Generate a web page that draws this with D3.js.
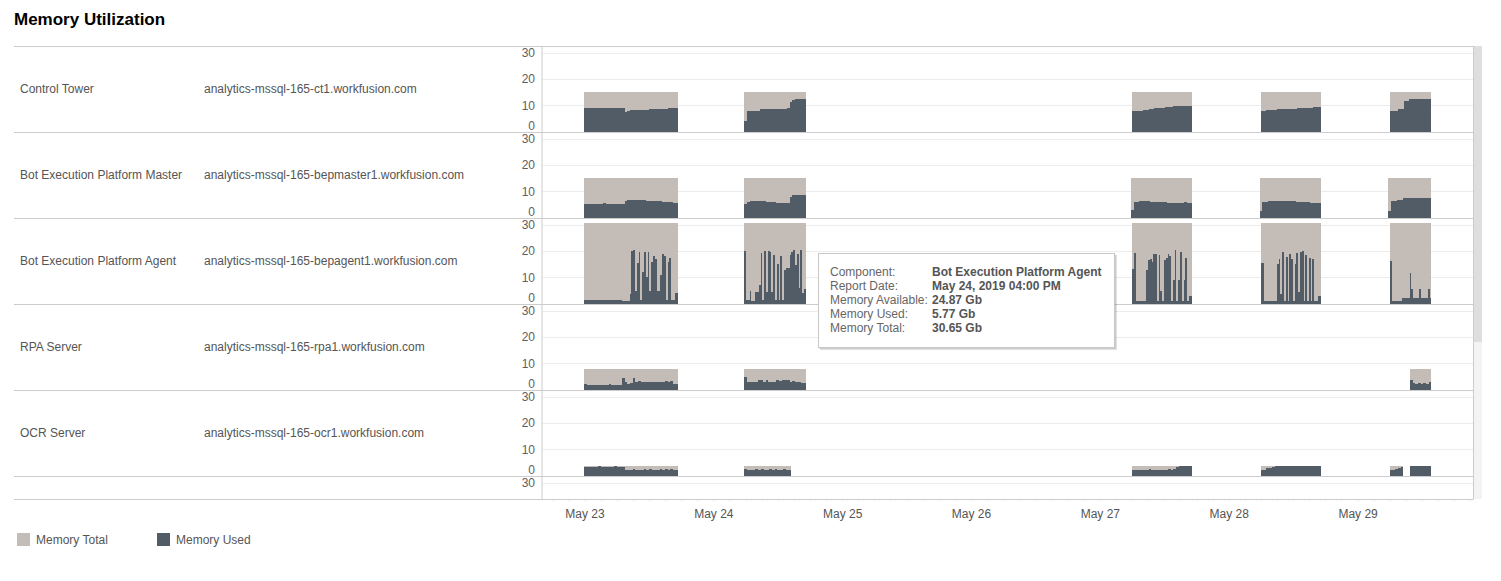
<!DOCTYPE html>
<html><head><meta charset="utf-8">
<script src="https://cdn.jsdelivr.net/npm/d3@7"></script>
<style>
body{margin:0;background:#fff;}
svg{display:block;font-family:"Liberation Sans",Arial,Helvetica,sans-serif;}
</style>
</head><body>
<svg id="c" width="1501" height="581"></svg>
<script>
// ---------------- DATA ----------------
const components = ["Control Tower","Bot Execution Platform Master","Bot Execution Platform Agent","RPA Server","OCR Server"];
const hosts = ["analytics-mssql-165-ct1.workfusion.com","analytics-mssql-165-bepmaster1.workfusion.com","analytics-mssql-165-bepagent1.workfusion.com","analytics-mssql-165-rpa1.workfusion.com","analytics-mssql-165-ocr1.workfusion.com"];
const memoryTotal = [15.0, 15.2, 30.65, 7.8, 3.8];
const yTickValues = [0, 10, 20, 30];
const dayTicks = ["2019-05-23","2019-05-24","2019-05-25","2019-05-26","2019-05-27","2019-05-28","2019-05-29"];
const legendLabels = ["Memory Total","Memory Used"];
const tooltipLabels = ["Component:","Report Date:","Memory Available:","Memory Used:","Memory Total:"];
const tooltipValues = ["Bot Execution Platform Agent","May 24, 2019 04:00 PM","24.87 Gb","5.77 Gb","30.65 Gb"];

// each segment: [start, end, memory used values spread evenly over the segment]
const ctSegments = [
  ["2019-05-23T00:00","2019-05-23T17:30",[9.0,9.0,9.0,9.0,9.0,9.0,9.0,9.0,9.0,9.0,9.0,9.0,9.0,9.0,9.0,7.6,7.9,8.1,8.2,8.2,8.2,8.2,8.2,8.4,8.5,8.5,8.5,8.5,8.6,8.6,8.6,9.0,9.0,9.0,9.0]],
  ["2019-05-24T05:45","2019-05-24T17:15",[4.0,7.8,7.8,7.8,7.8,7.8,8.5,8.5,8.5,8.5,8.5,8.5,8.5,8.5,8.5,8.5,9.0,11.3,11.9,12.4,12.4,12.4,12.4]],
  ["2019-05-27T06:00","2019-05-27T17:15",[7.7,7.8,7.8,7.8,8.2,8.2,8.6,8.6,9.0,9.0,9.0,9.0,9.3,9.3,9.3,9.7,9.7,9.7,9.7,9.7,9.7,9.7]],
  ["2019-05-28T06:00","2019-05-28T17:15",[7.9,7.9,8.2,8.2,8.2,8.2,8.6,8.6,8.6,8.6,8.6,8.6,8.6,9.0,9.0,9.0,9.0,9.0,9.0,9.4,9.4,9.4]],
  ["2019-05-29T06:00","2019-05-29T13:45",[7.8,7.8,7.8,8.6,8.6,11.5,11.5,12.5,12.5,12.5,12.5,12.5,12.5,12.5,12.5]]
];
const bepmSegments = [
  ["2019-05-23T00:00","2019-05-23T17:30",[5.3,5.3,5.3,5.3,5.3,5.3,5.3,5.4,5.3,5.3,5.3,5.3,5.3,5.3,5.3,6.4,6.6,6.8,6.8,6.8,6.8,6.8,6.8,6.4,6.4,6.4,6.4,6.4,6.4,6.1,6.1,6.1,6.1,5.7,5.7]],
  ["2019-05-24T05:45","2019-05-24T17:15",[5.2,6.0,6.5,6.5,6.5,6.5,6.5,6.5,6.0,6.0,6.0,6.0,5.7,5.7,5.7,5.7,5.7,8.0,8.7,8.7,8.7,8.7,8.7]],
  ["2019-05-27T05:45","2019-05-27T17:15",[3.0,6.0,6.0,6.5,6.5,6.5,6.5,6.1,6.1,6.1,6.1,6.1,6.1,5.7,5.7,5.7,5.7,5.7,5.7,6.0,5.4,5.4]],
  ["2019-05-28T05:45","2019-05-28T17:15",[2.5,6.0,6.0,6.5,6.5,6.5,6.5,6.5,6.5,6.5,6.5,6.5,6.5,6.0,6.0,6.0,6.0,6.0,5.5,5.5,5.5,5.5]],
  ["2019-05-29T05:45","2019-05-29T13:45",[2.5,6.3,6.3,6.8,6.8,7.5,7.5,7.5,7.5,7.5,7.5,7.5,7.5,7.5,7.5]]
];
const bepaSegments = [
  ["2019-05-23T00:00","2019-05-23T17:30",[1.4,1.4,1.4,1.4,1.4,1.4,1.4,1.4,1.4,1.4,1.4,1.4,1.4,1.4,1.4,1.4,1.4,1.4,1.4,1.4,1.4,1.0,1.0,1.0,1.0,3.8,19.9,20.3,4.8,15.6,19.5,1.3,12.0,19.4,10.1,19.4,4.8,15.8,18.0,17.0,4.7,4.7,10.8,19.0,18.0,1.3,15.8,17.3,1.3,1.3,4.1,4.1]],
  ["2019-05-24T05:45","2019-05-24T17:15",[19.9,1.3,1.3,4.7,0.9,0.9,4.4,4.4,7.2,19.3,1.3,19.9,4.4,19.9,19.5,4.4,18.6,1.3,15.2,1.3,18.0,1.3,12.7,13.5,13.5,18.6,19.6,20.2,14.7,19.0,5.8,20.5,4.2,5.7]],
  ["2019-05-27T06:00","2019-05-27T17:15",[13.3,19.2,0.9,0.9,0.9,0.9,0.9,0.9,12.7,16.7,17.1,15.8,19.0,19.0,0.9,18.4,5.0,1.0,16.5,17.5,19.0,18.2,0.9,8.8,20.4,0.9,8.8,19.4,0.9,9.0,17.3,0.9,2.9,2.9]],
  ["2019-05-28T06:00","2019-05-28T17:15",[15.6,15.3,0.9,0.9,0.9,0.9,0.9,0.9,0.9,15.2,16.8,3.8,19.4,0.9,17.8,0.9,19.0,17.0,0.9,15.2,19.2,4.4,19.6,19.9,0.9,18.4,0.9,17.3,0.9,17.0,0.9,0.9,2.8,2.8]],
  ["2019-05-29T06:00","2019-05-29T13:45",[16.1,0.9,0.9,0.9,0.9,0.9,0.9,2.2,2.2,2.2,2.2,11.8,5.4,2.2,2.2,2.2,5.4,2.2,2.2,2.2,2.2,5.4,2.2]]
];
const rpaSegments = [
  ["2019-05-23T00:00","2019-05-23T17:30",[2.2,1.9,1.9,1.9,1.9,1.9,1.9,1.9,1.9,2.1,1.9,1.9,1.9,1.9,4.5,2.9,2.3,2.5,4.5,2.9,3.4,2.9,2.9,2.9,3.0,2.9,3.0,2.9,2.9,3.1,3.4,2.9,3.4,2.3,2.3]],
  ["2019-05-24T05:45","2019-05-24T17:15",[5.0,2.9,2.9,3.1,3.1,3.7,3.7,3.1,3.5,3.1,3.1,3.1,3.7,3.4,3.5,3.5,3.5,3.1,3.4,2.9,2.9,2.5,2.5]],
  ["2019-05-29T09:45","2019-05-29T13:45",[3.6,2.7,2.3,2.5,2.3,2.7,2.3,2.9]]
];
const ocrSegments = [
  ["2019-05-23T00:00","2019-05-23T17:30",[3.4,3.4,3.4,3.4,3.4,3.7,3.4,3.4,3.4,3.4,3.4,3.7,3.4,3.4,3.4,2.2,2.2,2.2,2.5,2.2,2.2,2.2,2.5,2.2,2.5,2.2,2.2,2.2,2.5,2.2,2.5,2.2,2.5,2.2,2.2]],
  ["2019-05-24T05:45","2019-05-24T14:30",[2.6,2.2,2.2,2.2,2.5,2.2,2.5,2.2,2.2,2.5,2.2,2.5,2.2,2.2,2.5,2.2,2.2]],
  ["2019-05-27T06:00","2019-05-27T17:15",[2.2,2.2,2.2,2.2,2.2,2.2,2.6,2.2,2.2,2.2,2.2,2.2,2.2,2.6,2.2,2.6,3.2,3.5,3.5,3.5,3.5,3.5]],
  ["2019-05-28T06:00","2019-05-28T17:15",[2.0,2.0,2.8,2.8,3.3,3.5,3.5,3.5,3.5,3.5,3.5,3.5,3.5,3.5,3.5,3.5,3.5,3.5,3.5,3.5,3.5,3.5]],
  ["2019-05-29T06:00","2019-05-29T08:30",[2.2,2.2,2.7,2.8,3.2]],
  ["2019-05-29T09:45","2019-05-29T13:45",[3.6,3.6,3.6,3.6,3.6,3.6,3.6,3.6]]
];
const segmentsByRow = [ctSegments, bepmSegments, bepaSegments, rpaSegments, ocrSegments];

// ---------------- LAYOUT / STYLE ----------------
const colTotal = "#c4bcb7", colUsed = "#525c67";
const lineCol = "#cccccc", gridCol = "#ececec", textCol = "#555555", tickCol = "#606060";
const tableLeft = 14, plotLeft = 541.5, plotRight = 1473;
const firstRowTop = 46, rowH = 86, tableBottom = 499;
const nRowsVisible = 6;

const parse = d3.timeParse("%Y-%m-%dT%H:%M");
const parseDay = d3.timeParse("%Y-%m-%d");
const x = d3.scaleTime()
  .domain([parse("2019-05-22T16:00"), parse("2019-05-29T21:30")])
  .range([plotLeft, plotRight]);
const xr = d => Math.round(x(d));

const svg = d3.select("#c");

// title
svg.append("text").attr("x", 14).attr("y", 25)
  .attr("font-size", 17).attr("font-weight", "bold").attr("fill", "#000")
  .text("Memory Utilization");

// scrollbar
svg.append("rect").attr("x", plotRight + 1).attr("y", firstRowTop).attr("width", 8)
  .attr("height", tableBottom - firstRowTop).attr("fill", "#f3f3f3");
svg.append("rect").attr("x", plotRight + 1).attr("y", firstRowTop).attr("width", 8)
  .attr("height", 296).attr("fill", "#dedede");

svg.append("defs").append("clipPath").attr("id", "plotclip")
  .append("rect").attr("x", plotLeft).attr("y", firstRowTop)
  .attr("width", plotRight - plotLeft).attr("height", tableBottom - firstRowTop);

const plot = svg.append("g").attr("clip-path", "url(#plotclip)");
const axisG = svg.append("g");

for (let r = 0; r < nRowsVisible; r++) {
  const top = firstRowTop + r * rowH;
  const y = d3.scaleLinear().domain([0, 30]).range([top + 85.7, top + 6.5]);
  const yr = v => Math.round(y(v));

  // gridlines
  plot.selectAll(null).data(yTickValues.filter(v => v > 0)).enter().append("line")
    .attr("x1", plotLeft + 1).attr("x2", plotRight)
    .attr("y1", d => Math.round(y(d)) + 0.5).attr("y2", d => Math.round(y(d)) + 0.5)
    .attr("stroke", gridCol).attr("stroke-width", 1);

  // y tick labels
  axisG.selectAll(null).data(yTickValues.filter(v => y(v) < tableBottom - 6)).enter().append("text")
    .attr("x", 535).attr("y", d => (d === 0 ? y(d) - 6 : y(d)) + 4.5)
    .attr("text-anchor", "end").attr("font-size", 12).attr("fill", tickCol)
    .text(d => d);

  if (r < components.length) {
    svg.append("text").attr("x", 20).attr("y", top + 43 + 4)
      .attr("font-size", 12).attr("fill", textCol).text(components[r]);
    svg.append("text").attr("x", 204).attr("y", top + 43 + 4)
      .attr("font-size", 12).attr("fill", textCol).text(hosts[r]);

    const segs = segmentsByRow[r];
    const total = memoryTotal[r];
    // total background
    plot.selectAll(null).data(segs).enter().append("rect")
      .attr("shape-rendering", "crispEdges")
      .attr("x", d => xr(parse(d[0])))
      .attr("width", d => xr(parse(d[1])) - xr(parse(d[0])))
      .attr("y", yr(total)).attr("height", yr(0) - yr(total))
      .attr("fill", colTotal);
    // used bars
    const bars = [];
    segs.forEach(s => {
      const t0 = parse(s[0]).getTime(), t1 = parse(s[1]).getTime();
      const n = s[2].length, dt = (t1 - t0) / n;
      s[2].forEach((v, i) => bars.push({a: new Date(t0 + i * dt), b: new Date(t0 + (i + 1) * dt), v}));
    });
    plot.selectAll(null).data(bars).enter().append("rect")
      .attr("shape-rendering", "crispEdges")
      .attr("x", d => xr(d.a))
      .attr("width", d => Math.max(1, xr(d.b) - xr(d.a)))
      .attr("y", d => yr(d.v)).attr("height", d => yr(0) - yr(d.v))
      .attr("fill", colUsed);
  }
}

// row separator lines
const rowLines = d3.range(nRowsVisible).map(r => firstRowTop + r * rowH).concat([tableBottom]);
svg.selectAll(null).data(rowLines).enter().append("line")
  .attr("x1", tableLeft).attr("x2", plotRight)
  .attr("y1", d => d + 0.5).attr("y2", d => d + 0.5)
  .attr("stroke", lineCol).attr("stroke-width", 1);

// vertical axis line and right border
svg.append("line").attr("x1", plotLeft + 0.5).attr("x2", plotLeft + 0.5)
  .attr("y1", firstRowTop).attr("y2", tableBottom).attr("stroke", lineCol);
svg.append("line").attr("x1", plotRight + 0.5).attr("x2", plotRight + 0.5)
  .attr("y1", firstRowTop).attr("y2", tableBottom + 0.5).attr("stroke", lineCol);

// faint minor ticks along the bottom
svg.selectAll(null).data(x.ticks(d3.timeHour.every(3))).enter().append("line")
  .attr("x1", d => xr(d) + 0.5).attr("x2", d => xr(d) + 0.5)
  .attr("y1", tableBottom + 1).attr("y2", tableBottom + 3)
  .attr("stroke", "#f4f4f4");

// x axis labels
const xAxis = d3.axisBottom(x)
  .tickValues(dayTicks.map(parseDay))
  .tickFormat(d3.timeFormat("%b %d"))
  .tickSizeInner(0).tickSizeOuter(0).tickPadding(10);
const xg = svg.append("g").attr("transform", `translate(0,${tableBottom})`).call(xAxis);
xg.select(".domain").remove();
xg.selectAll("text").attr("font-size", 12).attr("fill", textCol)
  .attr("font-family", '"Liberation Sans",Arial,sans-serif');

// legend
const lg = svg.append("g");
const legendX = [17, 157];
lg.selectAll(null).data(legendLabels).enter().append("rect")
  .attr("x", (d, i) => legendX[i]).attr("y", 533).attr("width", 13).attr("height", 13)
  .attr("fill", (d, i) => i === 0 ? colTotal : colUsed);
lg.selectAll(null).data(legendLabels).enter().append("text")
  .attr("x", (d, i) => legendX[i] + 19).attr("y", 544)
  .attr("font-size", 12).attr("fill", textCol).text(d => d);

// tooltip
const tt = svg.append("g").attr("transform", "translate(818,253)");
tt.append("rect").attr("x", 2).attr("y", 2).attr("width", 297).attr("height", 95)
  .attr("fill", "rgba(0,0,0,0.12)");
tt.append("rect").attr("x", 1).attr("y", 1).attr("width", 297).attr("height", 95)
  .attr("fill", "rgba(0,0,0,0.08)");
tt.append("rect").attr("x", 0.5).attr("y", 0.5).attr("width", 296).attr("height", 94)
  .attr("fill", "#fff").attr("stroke", "#c8c8c8");
tt.selectAll(null).data(tooltipLabels).enter().append("text")
  .attr("x", 12).attr("y", (d, i) => 23 + i * 14)
  .attr("font-size", 12).attr("fill", "#666").text(d => d);
tt.selectAll(null).data(tooltipValues).enter().append("text")
  .attr("x", 114).attr("y", (d, i) => 23 + i * 14)
  .attr("font-size", 12).attr("font-weight", "bold").attr("fill", "#555").text(d => d);
</script>
</body></html>
